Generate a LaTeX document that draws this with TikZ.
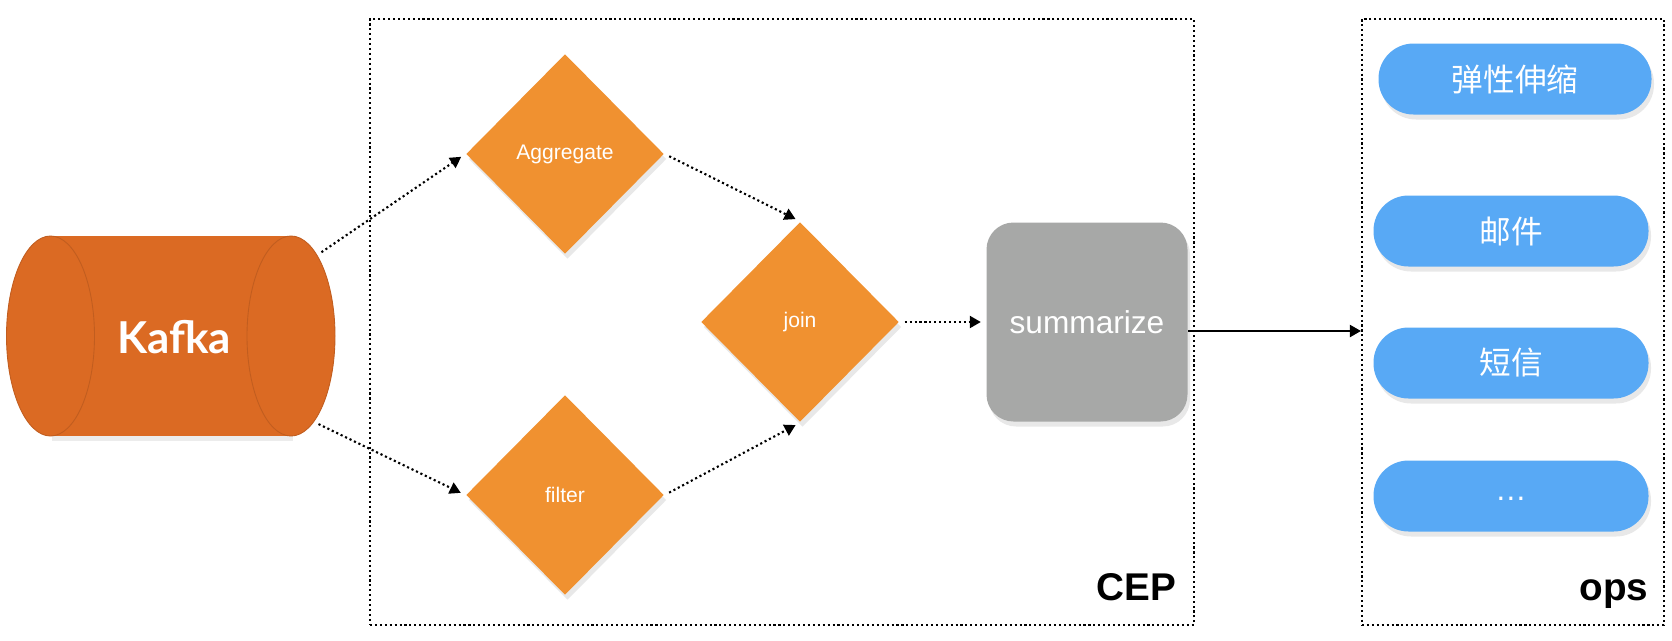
\documentclass[tikz,border=0pt]{standalone}
\usepackage{fontspec}
\setmainfont{Liberation Sans}
\newfontfamily\cjkfont{Noto Sans CJK SC}
\newfontfamily\kafkafont{Lato}
\usetikzlibrary{shapes.geometric,arrows.meta,shadows}
\definecolor{kafkaorange}{RGB}{219,106,35}
\definecolor{oporange}{RGB}{240,145,48}
\definecolor{sumgray}{RGB}{167,168,167}
\definecolor{opsblue}{RGB}{88,169,245}

\begin{document}
\begin{tikzpicture}[
		softshadow/.style={drop shadow={shadow xshift=0.25mm, shadow yshift=-0.5mm, opacity=0.18}},
		op/.style={diamond, fill=oporange, text=white, inner sep=0pt,
			minimum width=1.98cm, minimum height=2cm,
			font=\fontsize{6}{7}\selectfont, softshadow},
		kafkaend/.style={ellipse, fill=kafkaorange, draw=kafkaorange!88!black,
			line width=0.25pt, inner sep=0pt, minimum width=0.88cm, minimum height=2cm},
		groupbox/.style={draw, line width=0.6pt, dash pattern=on 0.6pt off 0.8pt,
			minimum height=6.06cm, inner sep=0pt},
		pill/.style={fill=opsblue, text=white, rounded corners=3.5mm,
			minimum width=2.75cm, minimum height=0.71cm, inner sep=0pt,
			font=\cjkfont\fontsize{9}{10}\selectfont, softshadow},
		boxlabel/.style={anchor=base east, inner sep=0pt,
			font=\bfseries\fontsize{11}{12}\selectfont},
		flowdot/.style={line width=0.6pt, dash pattern=on 0.6pt off 0.8pt,
			-{Triangle[length=1.1mm, width=1.2mm]}, shorten >=0.5mm, shorten <=0.5mm},
		flow/.style={line width=0.55pt, -{Triangle[length=1.1mm, width=1.2mm]}}
	]
		\useasboundingbox (0,0) rectangle (16.72,6.40);
		
		% Draw groups.
		\node[groupbox, minimum width=8.24cm] (cep) at (7.82,3.18) {};
		\node[groupbox, minimum width=3.02cm] (ops) at (15.13,3.18) {};
		\node[boxlabel] (ceplabel) at ([xshift=-1.8mm,yshift=2.6mm]cep.south east) {CEP};
		\node[boxlabel] (opslabel) at ([xshift=-1.6mm,yshift=2.6mm]ops.south east) {ops};
		
		% Draw Kafka.
		\fill[kafkaorange, drop shadow={shadow xshift=0.2mm, shadow yshift=-0.5mm, opacity=0.15}] (0.50,2.04) rectangle (2.91,4.04);
		\node[kafkaend] (kafkaL) at (0.505,3.04) {};
		\node[kafkaend] (kafkaR) at (2.91,3.04) {};
		\node[text=white, font=\kafkafont\bfseries\fontsize{12.5}{14}\selectfont] (kafka) at (1.74,3.03) {Kafka};
		
		% Draw operators.
		\node[op] (agg) at (5.65,4.86) {Aggregate};
		\node[op] (filter) at (5.65,1.45) {filter};
		\node[op] (join) at (8.00,3.18) {join};
		\node[rectangle, fill=sumgray, text=white, rounded corners=2.7mm,
			minimum width=2.01cm, minimum height=1.99cm,
			font=\fontsize{9}{10}\selectfont, softshadow] (sum) at (10.87,3.18) {summarize};
		
		% Draw actions.
		\node[pill, minimum width=2.73cm] (scale) at (15.15,5.61) {弹性伸缩};
		\node[pill] (mail) at (15.11,4.09) {邮件};
		\node[pill] (sms) at (15.11,2.77) {短信};
		\node[pill, font=\fontsize{9}{10}\selectfont] (more) at (15.11,1.44) {\raisebox{-0.8mm}{…}};
		
		% Draw flows.
		\draw[flowdot] (kafkaR.72) -- (agg.west);
		\draw[flowdot] (kafkaR.-75) -- (filter.west);
		\draw[flowdot] (agg.east) -- (join.north);
		\draw[flowdot] (filter.east) -- (join.south);
		\draw[flowdot] (join.east) -- (sum.west);
		\draw[flow] ([yshift=-0.9mm]sum.east) -- ([yshift=-0.9mm]ops.west);
	\end{tikzpicture}
\end{document}
